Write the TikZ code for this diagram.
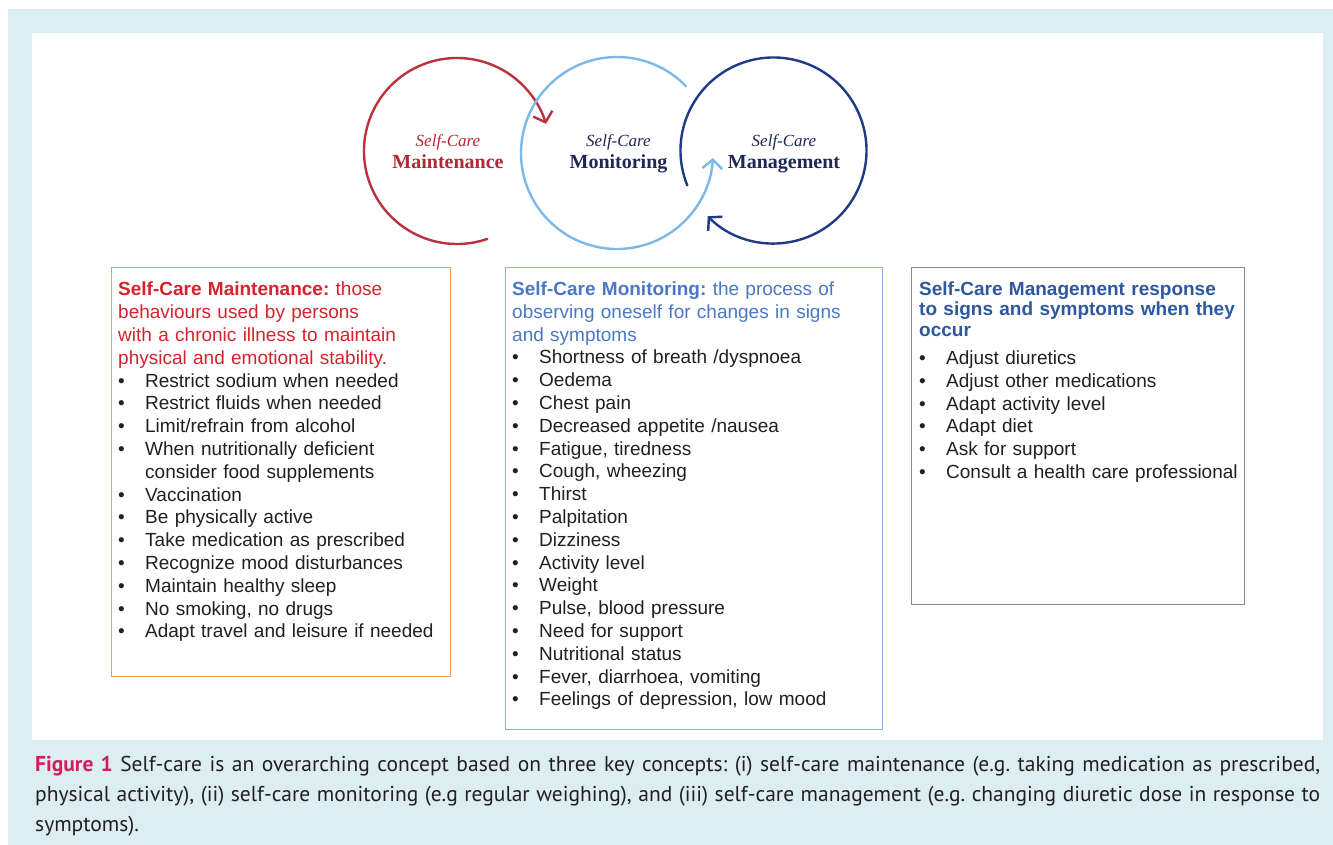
\documentclass[tikz,border=0pt]{standalone}
\usepackage{fontspec}
\setmainfont{Liberation Sans}
\newfontfamily\ringfont{Liberation Serif}
\newfontfamily\capfont{PT Sans}
\usepackage{tikz}
\usetikzlibrary{arrows.meta,positioning}

\definecolor{bgblue}{RGB}{221,238,243}
\definecolor{arcred}{RGB}{185,50,62}
\definecolor{arclight}{RGB}{125,185,232}
\definecolor{arcdark}{RGB}{32,58,135}
\definecolor{maintred}{RGB}{178,40,52}
\definecolor{ringnavy}{RGB}{30,40,85}
\definecolor{orangeb}{RGB}{242,155,95}
\definecolor{monitb}{RGB}{135,178,225}
\definecolor{managb}{RGB}{140,140,140}
\definecolor{hdred}{RGB}{213,35,45}
\definecolor{hdblue}{RGB}{75,120,195}
\definecolor{hdnavy}{RGB}{45,88,160}
\definecolor{bodytxt}{RGB}{35,31,32}
\definecolor{figred}{RGB}{210,30,90}

\newcommand{\bitem}[1]{\par\hangindent=27pt\hangafter=1\noindent\makebox[27pt][l]{\textbullet}#1}
\frenchspacing

\begin{document}
\begin{tikzpicture}[
        x=1pt, y=1pt,
        ring/.style={circle, minimum size=#1, inner sep=0pt, outer sep=0pt},
        cyc/.style={line width=2.4pt, line cap=round, -{Straight Barb[length=9pt, width=20pt]}},
        ctitle/.style={align=center, inner sep=0pt, font=\ringfont\fontsize{20}{22}\selectfont},
        frame/.style={draw, line width=1.2pt, inner sep=0pt, anchor=north west},
        listtxt/.style={inner sep=0pt, anchor=north west, text width=#1, align=left,
            text=bodytxt, font=\fontsize{19}{22.8}\selectfont},
        captxt/.style={inner sep=0pt, anchor=north west, text width=1285pt, align=justify,
            text=bodytxt, font=\capfont\fontsize{21.5}{30}\selectfont}
    ]

    \useasboundingbox (0,0) rectangle (1333,-845);
    \fill[bgblue] (8,-9) rectangle (1333,-845);
    \fill[white] (32,-33) rectangle (1323,-740);

    % Cycle
    \node[ring=186pt] (maint) at (457,-151) {};
    \node[ring=192pt] (monit) at (617,-153) {};
    \node[ring=186pt] (manag) at (773.5,-150.5) {};

    \draw[cyc, arcred] (maint.289) arc[start angle=289, end angle=17, radius=93pt];
    \draw[cyc, arclight] (monit.44) arc[start angle=44, end angle=357, radius=96pt];
    \draw[cyc, arcdark] (manag.202) arc[start angle=202, end angle=-135, radius=93pt];

    \node[ctitle, text=maintred] (mainttitle) at ([xshift=-9pt, yshift=-0.2pt]maint.center)
        {{\fontsize{17}{22}\selectfont\itshape Self-Care}\\{\bfseries Maintenance}};
    \node[ctitle, text=ringnavy] (monittitle) at ([xshift=1.5pt, yshift=-0.4pt]monit.center)
        {{\fontsize{17}{22}\selectfont\itshape Self-Care}\\{\bfseries Monitoring}};
    \node[ctitle, text=ringnavy] (managtitle) at ([xshift=10.5pt, yshift=-2.9pt]manag.center)
        {{\fontsize{17}{22}\selectfont\itshape Self-Care}\\{\bfseries Management}};

    % Maintenance box
    \node[frame, draw=orangeb, minimum width=339pt, minimum height=409.5pt] (maintbox) at (110.5,-266.5) {};
    \node[listtxt=330pt] (maintlist) at ([xshift=7.5pt, yshift=-15.5pt]maintbox.north west) {%
        \color{hdred}\textbf{Self-Care Maintenance:} those\\
        behaviours used by persons\\
        with a chronic illness to maintain\\
        physical and emotional stability.\color{bodytxt}
        \bitem{Restrict sodium when needed}
        \bitem{Restrict fluids when needed}
        \bitem{Limit/refrain from alcohol}
        \bitem{When nutritionally deficient\newline consider food supplements}
        \bitem{Vaccination}
        \bitem{Be physically active}
        \bitem{Take medication as prescribed}
        \bitem{Recognize mood disturbances}
        \bitem{Maintain healthy sleep}
        \bitem{No smoking, no drugs}
        \bitem{Adapt travel and leisure if needed}};

    % Monitoring box
    \node[frame, draw=monitb, minimum width=377.5pt, minimum height=462pt] (monitbox) at (504.5,-267) {};
    \node[listtxt=365pt] (monitlist) at ([xshift=7.5pt, yshift=-14.5pt]monitbox.north west) {%
        \color{hdblue}\textbf{Self-Care Monitoring:} the process of\\
        observing oneself for changes in signs\\
        and symptoms\color{bodytxt}
        \bitem{Shortness of breath /dyspnoea}
        \bitem{Oedema}
        \bitem{Chest pain}
        \bitem{Decreased appetite /nausea}
        \bitem{Fatigue, tiredness}
        \bitem{Cough, wheezing}
        \bitem{Thirst}
        \bitem{Palpitation}
        \bitem{Dizziness}
        \bitem{Activity level}
        \bitem{Weight}
        \bitem{Pulse, blood pressure}
        \bitem{Need for support}
        \bitem{Nutritional status}
        \bitem{Fever, diarrhoea, vomiting}
        \bitem{Feelings of depression, low mood}};

    % Management box
    \node[frame, draw=managb, minimum width=333pt, minimum height=337pt] (managbox) at (911,-266.5) {};
    \node[listtxt=322pt] (managlist) at ([xshift=8pt, yshift=-15pt]managbox.north west) {%
        {\fontsize{19}{20.5}\selectfont\color{hdnavy}\bfseries Self-Care Management response\\
        to signs and symptoms when they\\
        occur\par}\vspace{5.2pt}
        \bitem{Adjust diuretics}
        \bitem{Adjust other medications}
        \bitem{Adapt activity level}
        \bitem{Adapt diet}
        \bitem{Ask for support}
        \bitem{Consult a health care professional}};

    % Caption
    \node[captxt] (caption) at (35,-756) {%
        {\color{figred}\bfseries Figure 1} Self-care is an overarching concept based on three key concepts: (i) self-care maintenance (e.g. taking medication as prescribed,\linebreak
        physical activity), (ii) self-care monitoring (e.g regular weighing), and (iii) self-care management (e.g. changing diuretic dose in response to\linebreak
        symptoms).};

\end{tikzpicture}
\end{document}
